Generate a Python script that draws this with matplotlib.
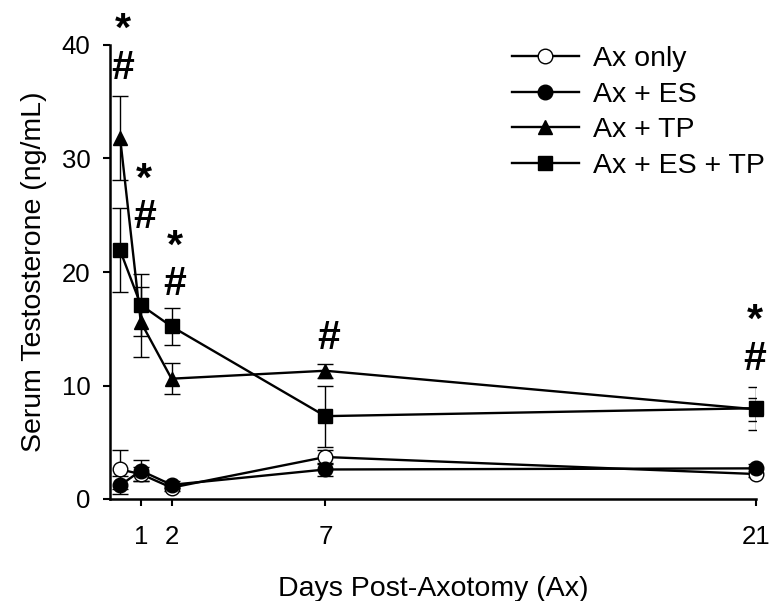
import matplotlib
matplotlib.use("Agg")
import matplotlib.pyplot as plt

plt.rcParams['font.family'] = ['Liberation Sans', 'DejaVu Sans']

# sampling days (first sample a few hours after axotomy)
days = [0.33, 1, 2, 7, 21]

ax_only = [2.6, 2.2, 1.0, 3.7, 2.2]
ax_only_err = [1.7, 0.6, 0.3, 0.6, 0.3]

ax_es = [1.2, 2.5, 1.25, 2.6, 2.7]
ax_es_err = [0.8, 0.9, 0.3, 0.6, 0.4]

ax_tp = [31.8, 15.6, 10.6, 11.3, 7.9]
ax_tp_err = [3.7, 3.1, 1.35, 0.6, 1.0]

ax_es_tp = [21.9, 17.1, 15.2, 7.3, 8.0]
ax_es_tp_err = [3.7, 2.7, 1.65, 2.7, 1.9]

xticks = [1, 2, 7, 21]
yticks = [0, 10, 20, 30, 40]

# significance marks: (x, y of the '#', text)
marks = [(0.41, 38.4, '*\n#'),
         (1.11, 25.2, '*\n#'),
         (2.10, 19.3, '*\n#'),
         (7.11, 14.6, '#'),
         (20.97, 12.7, '*\n#')]

fig = plt.figure(figsize=(7.72, 6.01), dpi=100)
ax = fig.add_axes([110/772, 1 - 499/601, 646/772, 454/601])

series = [
    (ax_only, ax_only_err, 'o', 'white', 'Ax only'),
    (ax_es, ax_es_err, 'o', 'black', 'Ax + ES'),
    (ax_tp, ax_tp_err, '^', 'black', 'Ax + TP'),
    (ax_es_tp, ax_es_tp_err, 's', 'black', 'Ax + ES + TP'),
]
for vals, err, mk, fc, lab in series:
    ax.errorbar(days, vals, yerr=err, fmt='none', ecolor='black',
                elinewidth=1.0, capsize=5.5, capthick=1.0, zorder=2)
    ax.plot(days, vals, color='black', lw=1.7, marker=mk, markersize=10.5,
            markerfacecolor=fc, markeredgecolor='black', markeredgewidth=1.0,
            label=lab, zorder=3, clip_on=False)

# text bottom sits ~0.57 em below the centre of the '#'
mark_fs = 29.5
per_unit = 454 / 40
off = 0.57 * mark_fs * 100 / 72 / per_unit
for x, y, t in marks:
    ax.text(x, y - off, t, ha='center', va='bottom', fontsize=mark_fs,
            fontweight='bold', linespacing=1.0, clip_on=False)

ax.set_xlim(0, 21)
ax.set_ylim(0, 40)
ax.set_xticks(xticks)
ax.set_yticks(yticks)
ax.tick_params(labelsize=18.5, width=1.5, length=5, direction='out')
ax.tick_params(axis='x', pad=14)
ax.tick_params(axis='y', pad=9)
ax.spines['top'].set_visible(False)
ax.spines['right'].set_visible(False)
ax.spines['left'].set_linewidth(1.8)
ax.spines['bottom'].set_linewidth(1.8)

ax.set_xlabel('Days Post-Axotomy (Ax)', fontsize=20.5, labelpad=19)
ax.set_ylabel('Serum Testosterone (ng/mL)', fontsize=20.5, labelpad=11)

ax.legend(loc='upper left', bbox_to_anchor=(512/772, 1 - 46/601),
          bbox_transform=fig.transFigure, frameon=False, fontsize=20.5,
          handlelength=2.35, handletextpad=0.5, labelspacing=0.34,
          borderpad=0, borderaxespad=0)

fig.savefig('out.png', dpi=100)
